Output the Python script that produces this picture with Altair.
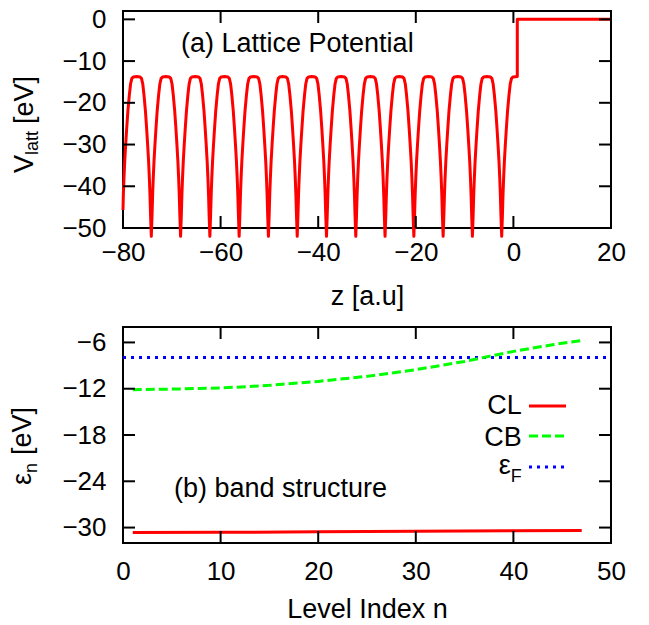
import altair as alt
import pandas as pd

FONT = "Liberation Sans"

# ---------------- Panel (a): lattice potential ----------------
well_centers = [-80.2, -74.2, -68.2, -62.2, -56.2, -50.2, -44.3, -38.3,
                -32.3, -26.3, -20.4, -14.4, -8.4, -2.4]
well_offsets = [-3.0, -2.3, -2.0, -1.75, -1.5, -1.2, -0.96, -0.75, -0.55, -0.4,
                -0.27, -0.15, 0.0, 0.15, 0.27, 0.4, 0.55, 0.75, 0.96, 1.2, 1.5,
                1.75, 2.0, 2.3]
well_values = [-13.7, -13.8, -14.2, -15.5, -18.1, -22.0, -26.1, -30.0, -34.1,
               -38.0, -42.1, -47.0, -52.0, -47.0, -42.1, -38.0, -34.1, -30.0,
               -26.1, -22.0, -18.1, -15.5, -14.2, -13.8]
z_left_edge, v_left_edge = -80.0, -45.7
z_step, v_plateau, v_vacuum = 0.8, -13.7, 0.0
z_right_edge = 20.0

top_x_ticks = [-80, -60, -40, -20, 0, 20]
top_y_ticks = [0, -10, -20, -30, -40, -50]

# ---------------- Panel (b): band structure ----------------
cl_n = [1, 10, 20, 30, 40, 47]
cl_energy = [-30.65, -30.62, -30.55, -30.47, -30.40, -30.37]
cb_n = [1, 5, 10, 15, 20, 25, 30, 35, 40, 44, 47]
cb_energy = [-12.12, -12.05, -11.91, -11.56, -11.05, -10.4, -9.53, -8.46,
             -7.16, -6.3, -5.74]
fermi_n = [0, 50]
fermi_energy = [-7.94, -7.94]

bot_x_ticks = [0, 10, 20, 30, 40, 50]
bot_y_ticks = [-6, -12, -18, -24, -30]

# ---------------- build tables ----------------
rows = [(z_left_edge, v_left_edge)]
for c in well_centers:
    for o, v in zip(well_offsets, well_values):
        z = round(c + o, 3)
        if z > rows[-1][0] and z > z_left_edge:
            rows.append((z, v))
rows.append((z_step, v_plateau))
rows.append((z_step, v_vacuum))
rows.append((z_right_edge, v_vacuum))
pot = pd.DataFrame(rows, columns=["z", "V"])
pot["i"] = range(len(pot))

cl_df = pd.DataFrame({"n": cl_n, "e": cl_energy})
cb_df = pd.DataFrame({"n": cb_n, "e": cb_energy})
ef_df = pd.DataFrame({"n": fermi_n, "e": fermi_energy})

W = 488
H_TOP = 217
H_BOT = 216
TICK = 12
FS_LAB = 26
FS_TXT = 27


def axis_kw(values, title, lp, tp=8):
    return alt.Axis(values=values, title=title, ticks=False, domain=False,
                    grid=False, labelFontSize=FS_LAB, labelFont=FONT,
                    labelColor="black", labelPadding=lp, titleFontSize=FS_TXT,
                    titleFont=FONT, titleFontWeight="normal", titleColor="black",
                    titlePadding=tp, labelFlush=False, labelOverlap=False)


def panel(xf, yf, xdom, ydom, xticks, yticks, xtitle, w, h, lpad, tpad):
    X = alt.X(f"{xf}:Q", scale=alt.Scale(domain=xdom, nice=False, zero=False),
              axis=axis_kw(xticks, xtitle, lpad, tpad))
    Y = alt.Y(f"{yf}:Q", scale=alt.Scale(domain=ydom, nice=False, zero=False),
              axis=axis_kw(yticks, None, 17))
    dx = pd.DataFrame({xf: xticks})
    dy = pd.DataFrame({yf: yticks})
    bx = alt.Chart(dx).mark_rule(color="black", strokeWidth=2)
    by = alt.Chart(dy).mark_rule(color="black", strokeWidth=2)
    ticks = [
        bx.encode(x=X, y=alt.value(h), y2=alt.value(h - TICK)),
        bx.encode(x=X, y=alt.value(0), y2=alt.value(TICK)),
        by.encode(y=Y, x=alt.value(0), x2=alt.value(TICK)),
        by.encode(y=Y, x=alt.value(w), x2=alt.value(w - TICK)),
    ]
    return X, Y, ticks


def txt(s, x, y, size=FS_TXT, angle=0, align="left", baseline="alphabetic"):
    return alt.Chart(pd.DataFrame({"s": [s]})).mark_text(
        font=FONT, fontSize=size, angle=angle, align=align, baseline=baseline,
        color="black").encode(text="s:N", x=alt.value(x), y=alt.value(y))


# ---------------- top chart ----------------
Xt, Yt, ticks_t = panel("z", "V", [-80, 20], [-50, 2], top_x_ticks, top_y_ticks,
                        "z [a.u]", W, H_TOP, 11, 18)
pot_line = alt.Chart(pot).mark_line(color="#ff0000", strokeWidth=3, clip=False,
                                    strokeJoin="round").encode(
    x=Xt, y=Yt, order="i:Q")
top = alt.layer(
    pot_line,
    *ticks_t,
    txt("(a) Lattice Potential", 58, 41),
    txt("V", -90, 162, angle=270),
    txt("latt", -85, 144, size=18, angle=270),
    txt("[eV]", -90, 113, angle=270),
).properties(width=W, height=H_TOP)

# ---------------- bottom chart ----------------
Xb, Yb, ticks_b = panel("n", "e", [0, 50], [-32, -4], bot_x_ticks, bot_y_ticks,
                        "Level Index n", W, H_BOT, 15, 12)

ef_line = alt.Chart(ef_df).mark_line(color="#0000ff", strokeWidth=3,
                                     strokeDash=[3, 5]).encode(x=Xb, y=Yb)
cb_line = alt.Chart(cb_df).mark_line(color="#00ff00", strokeWidth=3,
                                     strokeDash=[9, 4]).encode(x=Xb, y=Yb)
cl_line = alt.Chart(cl_df).mark_line(color="#ff0000", strokeWidth=3).encode(x=Xb, y=Yb)


def leg_line(y, color, dash=None):
    kw = dict(color=color, strokeWidth=3)
    if dash:
        kw["strokeDash"] = dash
    return alt.Chart(pd.DataFrame({"a": [0]})).mark_rule(**kw).encode(
        x=alt.value(406), x2=alt.value(443), y=alt.value(y))


bottom = alt.layer(
    ef_line, cb_line, cl_line,
    *ticks_b,
    txt("(b) band structure", 51, 170),
    txt("CL", 398.7, 87, align="right"),
    txt("CB", 398.7, 119, align="right"),
    txt("ε", 387.7, 147, align="right"),
    txt("F", 398.7, 155, size=18, align="right"),
    leg_line(79, "#ff0000"),
    leg_line(109, "#00ff00", [9, 4]),
    leg_line(140, "#0000ff", [3, 5]),
    txt("ε", -92, 158, angle=270),
    txt("n", -86, 146, size=18, angle=270),
    txt("[eV]", -92, 128, angle=270),
).properties(width=W, height=H_BOT)

chart = alt.vconcat(top, bottom, spacing=99, bounds="flush").properties(
    padding={"left": 0, "top": -3, "right": 5, "bottom": 0}
).configure_view(stroke="black", strokeWidth=2)

chart.save("out.html", embed_options={"renderer": "svg", "actions": False})
